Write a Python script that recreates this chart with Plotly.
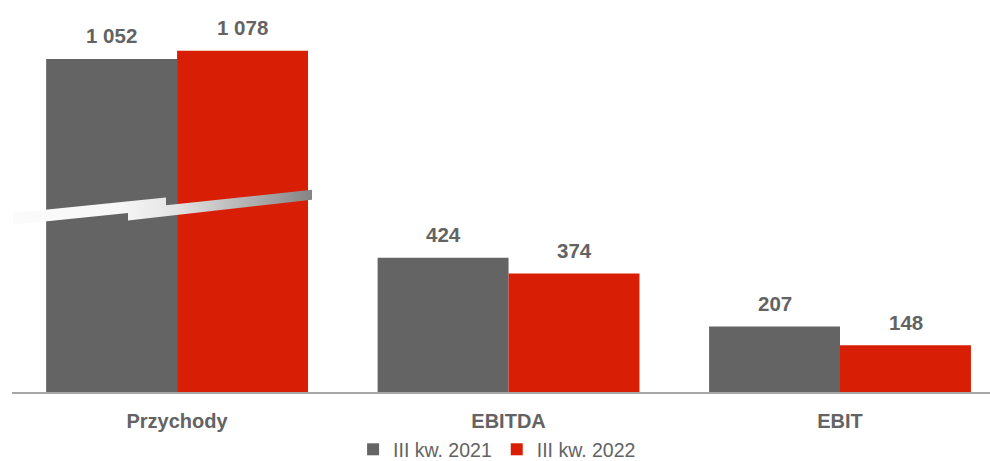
import plotly.graph_objects as go

# Quarterly results (PLN m)
categories = ["Przychody", "EBITDA", "EBIT"]
series_names = ["III kw. 2021", "III kw. 2022"]
values_2021 = [1052, 424, 207]
values_2022 = [1078, 374, 148]

GRAY = "#646464"
RED = "#D81E05"
TEXT = "#636363"
BOLD_FONT = "Liberation Sans Narrow, Arial Narrow, Liberation Sans, Arial, sans-serif"
REG_FONT = "Liberation Sans, Arial, sans-serif"

W, H = 990, 461
M_L, M_R, M_T, M_B = 12, 0, 0, 68.5

fig = go.Figure()

for name, vals, color in [(series_names[0], values_2021, GRAY),
                          (series_names[1], values_2022, RED)]:
    fig.add_trace(go.Bar(
        x=categories, y=vals, name=name,
        marker=dict(color=color, line=dict(width=0)),
        hoverinfo="x+y",
    ))

# value labels above each bar
bar_shift = 65.5
for vals, shift in [(values_2021, -bar_shift), (values_2022, bar_shift)]:
    for cat, v in zip(categories, vals):
        fig.add_annotation(
            x=cat, y=v, xref="x", yref="y",
            text=f"<b>{v:,}</b>".replace(",", " "),
            showarrow=False, xshift=shift, yshift=23, yanchor="middle",
            font=dict(family=BOLD_FONT, size=20.5, color=TEXT),
        )

# axis-break marker across the first group (pixel-space overlay axes)
brk_x = [13, 166, 166, 312, 312, 128, 128, 13, 13]
brk_y = [213.3, 197.7, 205.5, 190, 200, 220.7, 213.3, 225, 213.3]
fig.add_trace(go.Scatter(
    x=brk_x, y=brk_y, xaxis="x2", yaxis="y2",
    mode="lines", fill="toself", line=dict(width=0, color="rgba(0,0,0,0)"),
    fillgradient=dict(type="horizontal",
                      colorscale=[[0, "#fbfbfb"], [0.35, "#f7f7f7"],
                                  [0.55, "#e3e3e3"], [1, "#848484"]]),
    showlegend=False, hoverinfo="skip",
))

fig.update_layout(
    width=W, height=H,
    margin=dict(l=M_L, r=M_R, t=M_T, b=M_B, autoexpand=False),
    paper_bgcolor="white", plot_bgcolor="white",
    barmode="group", bargap=0.21, bargroupgap=0,
    showlegend=True,
    legend=dict(orientation="h", x=0.496, xanchor="center", y=-0.147, yanchor="middle",
                font=dict(family=REG_FONT, size=19.5, color=TEXT),
                itemwidth=30, tracegroupgap=0, bgcolor="rgba(0,0,0,0)"),
    xaxis=dict(
        range=[-0.498, 2.4525], showgrid=False, zeroline=False,
        showline=True, linecolor="#A6A6A6", linewidth=2,
        ticks="", ticklabelstandoff=10,
        tickfont=dict(family=BOLD_FONT, size=20, color=TEXT),
        tickprefix="<b>", ticksuffix="</b>",
        fixedrange=True,
    ),
    yaxis=dict(range=[0, 1238], visible=False, fixedrange=True),
    xaxis2=dict(range=[M_L, W - M_R], overlaying="x", visible=False, fixedrange=True),
    yaxis2=dict(range=[H - M_B, M_T], overlaying="y", visible=False, fixedrange=True),
)

fig.write_html("out.html")
